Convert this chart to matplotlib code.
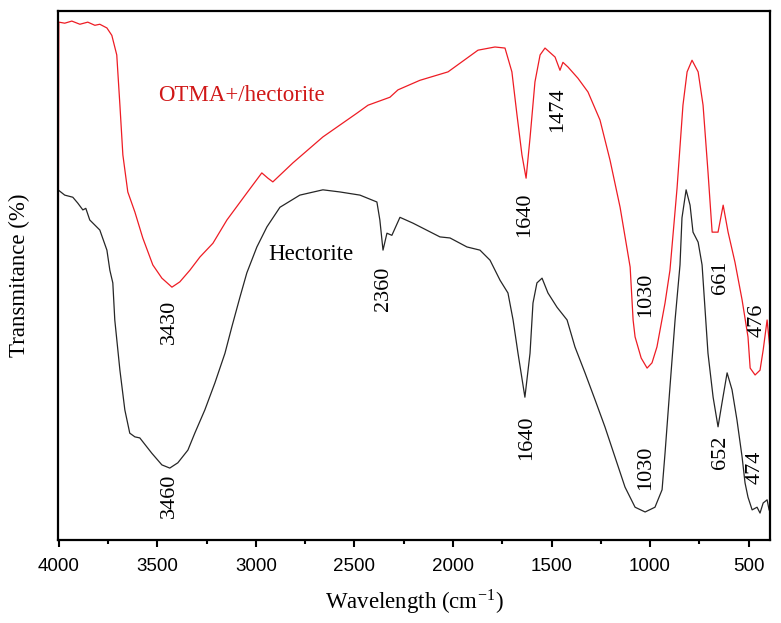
import matplotlib.pyplot as plt

plt.rcParams['mathtext.fontset'] = 'stix'

# OTMA+/hectorite spectrum (wavenumber, transmittance a.u.)
otma_wn = [4004, 4000, 3970, 3934, 3893, 3853, 3817, 3792, 3756, 3731, 3706, 3690, 3675,
           3650, 3614, 3574, 3523, 3477, 3426, 3386, 3335, 3284, 3218, 3147, 3046, 2970,
           2939, 2914, 2812, 2660, 2487, 2431, 2320, 2279, 2168, 2025, 1873, 1787, 1736,
           1701, 1675, 1650, 1629, 1609, 1584, 1558, 1533, 1482, 1457, 1442, 1416, 1366,
           1315, 1254, 1203, 1152, 1101, 1086, 1076, 1045, 1015, 990, 965, 924, 899, 863,
           833, 812, 787, 756, 731, 706, 685, 655, 629, 604, 569, 533, 503, 492, 467, 442,
           426, 406, 391]
otma_t = [32.1, 97.9, 97.7, 98.1, 97.5, 97.9, 97.3, 97.5, 96.8, 95.4, 91.7, 82.2, 72.8,
          65.8, 62.0, 57.1, 52.0, 49.5, 47.8, 48.8, 51.0, 53.5, 56.1, 60.5, 65.6, 69.4,
          68.4, 67.7, 71.3, 76.2, 80.7, 82.2, 83.7, 85.1, 86.9, 88.5, 92.6, 93.2, 93.0,
          88.5, 80.3, 72.8, 68.4, 76.0, 86.6, 91.7, 93.0, 91.3, 88.8, 90.3, 89.4, 87.3,
          84.7, 79.4, 71.8, 62.9, 51.6, 41.6, 38.4, 34.4, 32.5, 33.5, 36.5, 44.8, 51.0, 66.5,
          82.2, 88.5, 90.7, 88.5, 82.2, 69.6, 58.2, 58.2, 63.3, 58.2, 52.5, 45.4, 38.4, 32.5,
          31.2, 32.1, 35.9, 41.6, 35.9]

# Hectorite spectrum
hect_wn = [4004, 3970, 3929, 3904, 3878, 3863, 3843, 3792, 3756, 3741, 3726, 3716, 3690,
           3665, 3640, 3614, 3589, 3528, 3477, 3437, 3396, 3345, 3310, 3259, 3208, 3157,
           3122, 3081, 3046, 2995, 2944, 2878, 2777, 2660, 2574, 2472, 2386, 2371, 2355,
           2335, 2310, 2269, 2203, 2066, 2015, 1929, 1863, 1812, 1761, 1721, 1695, 1670,
           1635, 1609, 1594, 1574, 1548, 1518, 1472, 1421, 1381, 1330, 1279, 1229, 1178,
           1127, 1076, 1025, 975, 939, 924, 899, 873, 848, 838, 817, 797, 782, 756, 736,
           706, 680, 655, 635, 609, 584, 559, 533, 518, 503, 482, 457, 442, 426, 406, 396]
hect_t = [66.2, 65.2, 64.8, 63.7, 62.4, 62.7, 60.5, 58.6, 54.8, 51.0, 48.6, 41.6, 32.1,
          24.6, 20.2, 19.5, 19.3, 16.4, 14.2, 13.6, 14.6, 17.0, 20.2, 24.6, 29.7, 35.3,
          40.3, 45.9, 50.5, 55.4, 59.2, 62.9, 65.2, 66.2, 65.8, 65.2, 63.9, 60.5, 54.8,
          58.0, 57.6, 61.0, 59.9, 57.3, 57.1, 55.4, 54.8, 52.9, 49.1, 46.7, 41.6, 35.3,
          27.0, 35.3, 44.8, 48.6, 49.5, 46.7, 44.0, 41.6, 36.5, 31.6, 26.5, 21.4, 15.7,
          10.0, 6.2, 5.3, 6.2, 9.5, 16.4, 28.9, 41.6, 52.0, 60.9, 66.2, 63.3, 58.2, 56.3, 52.0,
          35.3, 27.0, 21.4, 25.9, 31.6, 28.4, 22.7, 15.7, 10.8, 8.1, 5.7, 6.2, 5.1, 7.0, 7.6, 5.7]

# Peak labels: (text, wavenumber, y position)
peak_labels = [("3430", 3437, 41.2), ("3460", 3437, 8.3),
               ("2360", 2355, 47.4), ("1640", 1635, 61.4),
               ("1474", 1467, 81.3), ("1030", 1025, 46.3),
               ("661", 645, 49.7), ("476", 457, 41.6),
               ("1640", 1624, 19.3), ("1030", 1025, 13.6),
               ("652", 645, 16.6), ("474", 467, 13.8)]

fig = plt.figure(figsize=(7.81, 6.23), dpi=100)
ax = fig.add_axes([0.0743, 0.1332, 0.9117, 0.8491])

ax.plot(otma_wn, otma_t, color='#ee1c24', lw=0.9)
ax.plot(hect_wn, hect_t, color='#262626', lw=0.9)

serif = 'Liberation Serif'
for txt, x, y in peak_labels:
    ax.text(x, y, txt, rotation=90, ha='center', va='center', fontsize=16,
            family=serif, color='black')

ax.text(3497, 84.1, "OTMA+/hectorite", color='#d01818', fontsize=16.5,
        family=serif, va='center', ha='left')
ax.text(2939, 53.9, "Hectorite", color='black', fontsize=16.5,
        family=serif, va='center', ha='left')

ax.set_xlim(4004, 391)
ax.set_ylim(0, 100)
ax.set_xticks([4000, 3500, 3000, 2500, 2000, 1500, 1000, 500])
ax.set_xticks([3750, 3250, 2750, 2250, 1750, 1250, 750], minor=True)
ax.set_yticks([])
ax.tick_params(axis='x', which='major', direction='out', length=5, width=1.5,
               labelsize=13.5, pad=8)
ax.tick_params(axis='x', which='minor', direction='out', length=3, width=1.5)
for lab in ax.get_xticklabels():
    lab.set_family('Liberation Sans')
for s in ax.spines.values():
    s.set_linewidth(1.6)

ax.set_xlabel(r"Wavelength (cm$^{\mathregular{-1}}$)", family=serif, fontsize=16.5, labelpad=9)
ax.set_ylabel("Transmitance (%)", family=serif, fontsize=16.5, labelpad=20)

fig.savefig("out.png", dpi=100)
